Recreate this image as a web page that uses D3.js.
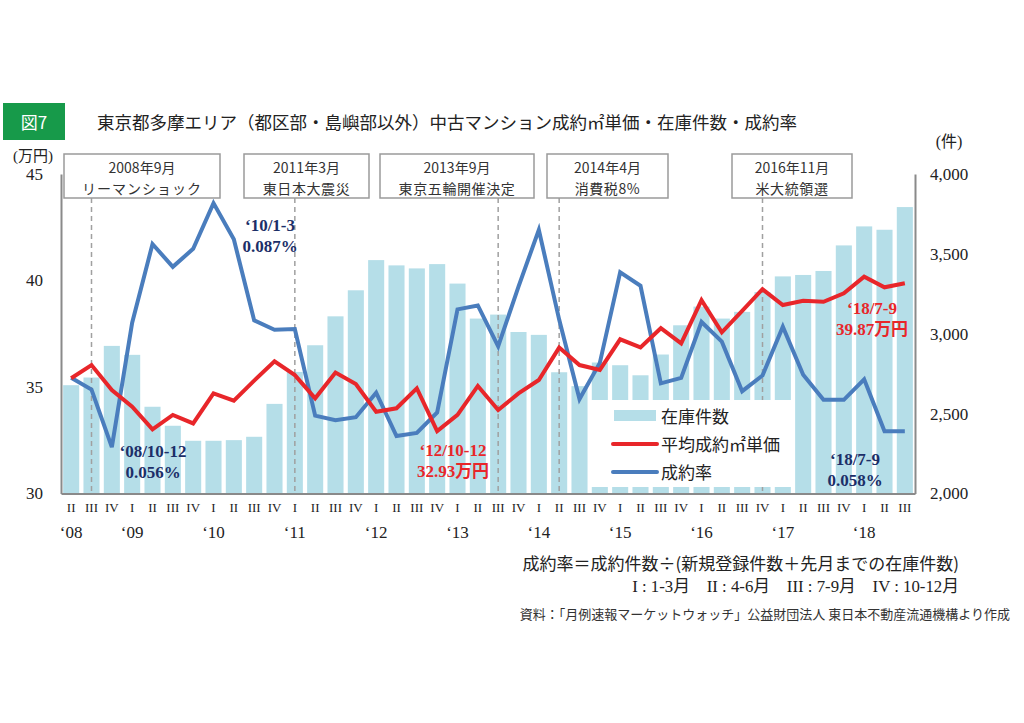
<!DOCTYPE html>
<html><head><meta charset="utf-8">
<script src="https://cdn.jsdelivr.net/npm/d3@7"></script>
<style>
html,body{margin:0;padding:0;background:#fff;}
svg{display:block;}
</style>
</head><body>
<svg id="chart" width="1024" height="723"></svg>
<script>
// ---------- DATA ----------
const quarterLabels = ["II","III","IV",
  "I","II","III","IV", "I","II","III","IV", "I","II","III","IV",
  "I","II","III","IV", "I","II","III","IV", "I","II","III","IV",
  "I","II","III","IV", "I","II","III","IV", "I","II","III","IV",
  "I","II","III"];
const yearLabels = ["‘08","‘09","‘10","‘11","‘12","‘13","‘14","‘15","‘16","‘17","‘18"];
const inventory = [2678,2726,2924,
  2868,2543,2424,2330, 2330,2334,2355,2561, 2761,2928,3109,3272,
  3461,3428,3409,3436, 3314,3095,3120,3011, 2993,2759,2672,2820,
  2803,2740,2870,3053, 3170,3095,3137,3261, 3359,3368,3393,3553,
  3672,3651,3793];
const unitPrice = [35.41,36.03,34.86,
  34.08,33.01,33.69,33.29, 34.70,34.36,35.30,36.21, 35.56,34.47,35.68,35.14,
  33.84,34.00,34.94,32.93, 33.69,35.05,33.92,34.70, 35.33,36.85,36.03,35.80,
  37.24,36.86,37.76,37.05, 39.08,37.57,38.57,39.59, 38.85,39.05,39.00,39.40,
  40.18,39.68,39.87];
const contractRate = [0.0648,0.0633,0.056,
  0.0718,0.0818,0.0789,0.0812, 0.087,0.0824,0.0721,0.0709, 0.0710,0.0600,0.0594,0.0598,
  0.0629,0.0574,0.0578,0.0604, 0.0735,0.0740,0.0688,0.0764, 0.0836,0.0722,0.0621,0.0667,
  0.0782,0.0765,0.0641,0.0648, 0.0719,0.0694,0.0631,0.0651, 0.0713,0.0652,0.0620,0.0620,
  0.0646,0.0580,0.058];
const leftTicks = [30,35,40,45];
const rightTicks = [2000,2500,3000,3500,4000];
const eventLine1 = ["2008年9月","2011年3月","2013年9月","2014年4月","2016年11月"];
const eventLine2 = ["リーマンショック","東日本大震災","東京五輪開催決定","消費税8%","米大統領選"];
const eventIndex = [1,11,21,24,34];
const seriesNames = ["在庫件数","平均成約㎡単価","成約率"];

// ---------- LAYOUT ----------
const L = 61, R = 915, T = 174, B = 493.5;
const cBar = "#b5dee8", cRed = "#e8262a", cBlue = "#4a7dbd", cNavy = "#1c2f68", cAxis = "#8a8a8a";
const serif = "'Liberation Serif','Noto Sans CJK JP',serif";
const sans = "'Noto Sans CJK JP','Noto Sans',sans-serif";

// category keys
let yr = 0;
const cats = quarterLabels.map((q,i)=>{ if(i>0 && q==="I") yr++; return yr+"-"+q; });
const yearPos = cats.filter((c,i)=> i===0 || quarterLabels[i]==="I");

const svg = d3.select("#chart");
const x = d3.scaleBand().domain(cats).range([L,R]).paddingInner(0.21).paddingOuter(0.105);
const yL = d3.scaleLinear().domain([30,45]).range([B,T]);
const yR = d3.scaleLinear().domain([2000,4000]).range([B,T]);
const yRate = d3.scaleLinear().domain([0.0501,0.0907]).range([B,T]);
const cx = i => x(cats[i]) + x.bandwidth()/2;

// title
svg.append("rect").attr("x",3).attr("y",103).attr("width",62).attr("height",37).attr("fill","#179a4a");
svg.append("text").attr("x",34).attr("y",121.5).attr("text-anchor","middle").attr("dominant-baseline","central")
  .attr("fill","#fff").style("font-family",sans).style("font-size","17px").text("図7");
svg.append("text").attr("x",97).attr("y",121).attr("dominant-baseline","central")
  .attr("fill","#222").style("font-family",sans).style("font-size","17.5px")
  .text("東京都多摩エリア（都区部・島嶼部以外）中古マンション成約㎡単価・在庫件数・成約率");

// bars
svg.append("g").selectAll("rect").data(inventory).join("rect")
  .attr("x",(d,i)=>x(cats[i])).attr("width",x.bandwidth())
  .attr("y",d=>yR(d)).attr("height",d=>B-yR(d)).attr("fill",cBar);

// event dashed lines
svg.append("g").selectAll("line").data(eventIndex).join("line")
  .attr("x1",d=>cx(d)).attr("x2",d=>cx(d)).attr("y1",198).attr("y2",B)
  .attr("stroke","#a0a0a0").attr("stroke-width",1.5).attr("stroke-dasharray","5,4");

// legend box (covers bars)
const lg = svg.append("g");
lg.append("rect").attr("x",591).attr("y",400).attr("width",203).attr("height",87).attr("fill","#fff");
lg.append("rect").attr("x",614).attr("y",410).attr("width",42).attr("height",11).attr("fill",cBar);
lg.append("line").attr("x1",613).attr("x2",657).attr("y1",444).attr("y2",444).attr("stroke",cRed).attr("stroke-width",4).attr("stroke-linecap","round");
lg.append("line").attr("x1",613).attr("x2",657).attr("y1",472).attr("y2",472).attr("stroke",cBlue).attr("stroke-width",4).attr("stroke-linecap","round");
lg.selectAll("text.lgt").data(seriesNames).join("text").attr("class","lgt")
  .attr("x",661).attr("y",(d,i)=>[415,443,471][i]).attr("dominant-baseline","central")
  .attr("fill","#222").style("font-family",sans).style("font-size","17px").text(d=>d);

// lines
const lineP = d3.line().x((d,i)=>cx(i)).y(d=>yL(d));
const lineR = d3.line().x((d,i)=>cx(i)).y(d=>yRate(d));
svg.append("path").datum(contractRate).attr("d",lineR).attr("fill","none")
  .attr("stroke",cBlue).attr("stroke-width",4).attr("stroke-linejoin","miter");
svg.append("path").datum(unitPrice).attr("d",lineP).attr("fill","none")
  .attr("stroke",cRed).attr("stroke-width",4).attr("stroke-linejoin","miter");

// axes
const axL = svg.append("g").attr("transform",`translate(${L},0)`)
  .call(d3.axisLeft(yL).tickValues(leftTicks).tickSize(0).tickSizeOuter(0).tickPadding(18));
const axR = svg.append("g").attr("transform",`translate(${R},0)`)
  .call(d3.axisRight(yR).tickValues(rightTicks).tickSize(0).tickSizeOuter(0).tickPadding(15).tickFormat(d3.format(",")));
const axB = svg.append("g").attr("transform",`translate(0,${B})`)
  .call(d3.axisBottom(x).tickSize(0).tickSizeOuter(0).tickPadding(9).tickFormat((d,i)=>quarterLabels[i]));
[axL,axR,axB].forEach(a=>{
  a.select(".domain").attr("stroke",cAxis).attr("stroke-width",2);
  a.selectAll("text").attr("fill","#222").style("font-family",serif);
});
axL.selectAll("text").style("font-size","17px");
axR.selectAll("text").style("font-size","17px");
axB.selectAll("text").style("font-size","13px");

// year labels
svg.append("g").selectAll("text").data(yearLabels).join("text")
  .attr("x",(d,i)=>x(yearPos[i])+x.bandwidth()/2).attr("y",532).attr("text-anchor","middle")
  .attr("dominant-baseline","central").attr("fill","#222")
  .style("font-family",serif).style("font-size","17px").text(d=>d);

// axis units
svg.append("text").attr("x",33).attr("y",156).attr("text-anchor","middle").attr("dominant-baseline","central")
  .attr("fill","#222").style("font-family",serif).style("font-size","15px").text("(万円)");
svg.append("text").attr("x",949).attr("y",141).attr("text-anchor","middle").attr("dominant-baseline","central")
  .attr("fill","#222").style("font-family",serif).style("font-size","16px").text("(件)");

// event boxes
const boxC = [142,306.5,457,607.5,792], boxW = [156,125,154,121,120];
const eg = svg.append("g");
eventLine1.forEach((t,i)=>{
  eg.append("rect").attr("x",boxC[i]-boxW[i]/2).attr("y",154).attr("width",boxW[i]).attr("height",44)
    .attr("fill","#fff").attr("stroke","#9a9a9a").attr("stroke-width",1.5);
  eg.append("text").attr("x",boxC[i]).attr("y",167).attr("text-anchor","middle").attr("dominant-baseline","central")
    .attr("fill","#333").style("font-family",sans).style("font-size","14px").text(t);
  eg.append("text").attr("x",boxC[i]).attr("y",187.5).attr("text-anchor","middle").attr("dominant-baseline","central")
    .attr("fill","#333").style("font-family",sans).style("font-size","14px")
    .style("letter-spacing", i===0 ? "1px":"0.6px").text(eventLine2[i]);
});

// annotations
const notes = [
  {t:["‘10/1-3","0.087%"], x:270, y:[225,246], c:cNavy},
  {t:["‘08/10-12","0.056%"], x:153, y:[451,472], c:cNavy},
  {t:["‘12/10-12","32.93万円"], x:453, y:[450,471], c:cRed},
  {t:["‘18/7-9","39.87万円"], x:872, y:[308,329], c:cRed},
  {t:["‘18/7-9","0.058%"], x:855, y:[459,480], c:cNavy}
];
notes.forEach(n=>{
  n.t.forEach((s,k)=>{
    svg.append("text").attr("x",n.x).attr("y",n.y[k]).attr("text-anchor","middle").attr("dominant-baseline","central")
      .attr("fill",n.c).style("font-family",serif).style("font-weight","bold").style("font-size","17px").text(s);
  });
});

// footnotes
svg.append("text").attr("x",959).attr("y",562).attr("text-anchor","end").attr("dominant-baseline","central")
  .attr("fill","#222").style("font-family",sans).style("font-size","17px")
  .text("成約率＝成約件数÷(新規登録件数＋先月までの在庫件数)");
svg.append("text").attr("x",959).attr("y",586).attr("text-anchor","end").attr("dominant-baseline","central")
  .attr("fill","#222").style("font-family",serif).style("font-size","16.8px").attr("xml:space","preserve")
  .text("I : 1-3月　II : 4-6月　III : 7-9月　IV : 10-12月");
svg.append("text").attr("x",1010).attr("y",613).attr("text-anchor","end").attr("dominant-baseline","central")
  .attr("fill","#333").style("font-family",sans).style("font-size","13px")
  .text("資料：「月例速報マーケットウォッチ」公益財団法人 東日本不動産流通機構より作成");
</script>
</body></html>
